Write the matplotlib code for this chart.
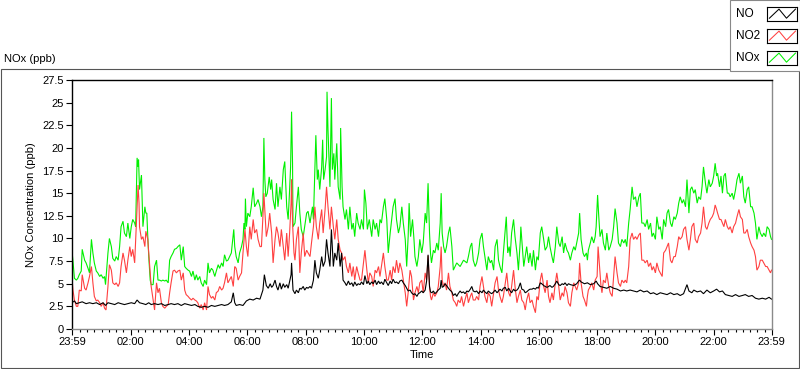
import matplotlib
matplotlib.use("Agg")
import matplotlib.pyplot as plt
import numpy as np
from matplotlib.patches import Rectangle

plt.rcParams['font.family'] = ['Liberation Sans', 'DejaVu Sans']

# minutes after 23:59 of the previous day, value in ppb
nox = [(0,8.6),(2,7.5),(5,5.6),(9,5.4),(12,5.6),(15,6.0),(19,6.4),(21,8.8),(26,7.6),(29,7.3),(33,6.7),(36,6.2),
       (40,9.9),(43,8.4),(46,7.3),(50,6.4),(53,6.2),(57,5.8),(60,6.0),(64,5.6),(67,5.8),(69,4.9),(74,8.4),(77,10.0),
       (81,9.1),(84,7.8),(88,7.5),(91,8.0),(95,7.6),(98,9.1),(101,11.3),(105,11.9),(108,10.6),(112,10.2),(115,11.7),
       (119,10.0),(122,11.3),(125,12.1),(129,11.7),(131,11.3),(134,18.9),(136,17.9),(137,18.7),(139,15.4),(143,17.0),
       (146,11.3),(150,13.5),(152,12.8),(154,12.8),(156,10.2),(158,8.0),(161,5.4),(163,4.9),(167,4.9),(170,6.9),
       (174,7.6),(177,5.4),(180,5.4),(184,5.3),(187,5.4),(191,5.3),(194,5.4),(198,5.1),(201,7.6),(204,8.0),(208,8.4),
       (211,8.8),(215,8.9),(218,9.1),(222,9.3),(225,7.6),(229,9.1),(232,6.9),(235,6.7),(239,6.5),(242,6.4),(246,5.8),
       (249,6.4),(253,5.4),(256,6.0),(259,5.4),(263,5.8),(266,5.1),(270,4.7),(273,5.4),(277,4.9),(280,7.3),(283,6.2),
       (287,6.7),(290,6.5),(294,5.8),(297,6.4),(301,7.1),(304,6.7),(308,7.3),(311,6.9),(314,8.2),(318,7.5),(321,7.6),
       (328,8.4),(333,11.0),(335,9.1),(338,8.0),(342,7.3),(345,8.4),(349,9.1),(352,9.9),(354,11.7),(356,11.0),
       (357,14.4),(359,11.3),(362,12.8),(366,12.4),(369,13.5),(373,15.6),(376,13.5),(380,13.9),(383,14.3),(387,13.5),
       (390,12.4),(393,13.5),(395,21.1),(397,16.5),(399,14.6),(402,15.0),(406,16.8),(409,15.4),(411,16.5),(414,14.3),
       (418,13.2),(421,16.1),(424,13.5),(428,15.7),(431,14.3),(435,17.6),(438,18.5),(442,13.5),(445,12.1),(448,15.4),
       (450,17.9),(452,24.0),(454,18.3),(455,11.3),(459,11.7),(462,13.5),(466,15.7),(469,12.8),(472,11.0),(476,10.2),
       (479,11.3),(483,12.8),(486,13.0),(490,11.7),(493,12.8),(495,13.5),(497,12.1),(500,17.9),(502,21.4),(505,16.5),
       (507,17.6),(510,15.4),(514,17.9),(516,20.9),(518,16.5),(521,17.6),(524,19.0),(525,26.2),(527,22.0),(531,15.7),
       (534,25.5),(536,17.6),(539,19.4),(541,16.5),(545,20.5),(548,15.7),(552,14.3),(553,22.2),(556,15.7),(558,13.5),
       (562,12.1),(565,13.2),(569,11.0),(572,13.5),(576,11.0),(579,11.7),(582,10.2),(586,12.8),(589,11.7),(593,11.0),
       (596,12.1),(600,11.0),(602,15.4),(605,13.9),(608,11.0),(612,12.1),(617,10.2),(620,12.1),(624,11.0),(627,11.7),
       (631,10.2),(634,12.1),(637,11.7),(641,13.5),(644,14.4),(648,12.1),(651,8.4),(655,10.6),(658,12.1),(661,13.5),
       (665,14.4),(668,12.1),(672,10.6),(675,11.3),(679,13.5),(682,11.7),(686,9.9),(689,6.9),(692,10.2),(694,13.9),
       (697,10.2),(701,12.1),(704,9.9),(706,8.0),(710,6.9),(713,8.0),(716,9.9),(720,8.4),(723,9.5),(727,12.8),
       (730,11.7),(733,16.1),(736,10.6),(738,8.4),(740,7.3),(744,8.7),(747,8.4),(751,9.5),(754,8.7),(758,11.7),
       (760,15.0),(762,10.6),(765,9.1),(768,8.4),(771,9.1),(775,10.6),(778,11.3),(782,9.1),(785,6.5),(792,7.3),
       (799,6.9),(806,7.6),(813,7.3),(816,8.0),(820,9.1),(823,9.5),(826,7.6),(830,6.9),(833,7.3),(837,8.4),(840,9.9),
       (844,10.6),(847,9.1),(850,8.0),(854,6.5),(857,8.0),(861,7.3),(864,7.6),(868,6.5),(871,9.1),(875,9.9),(878,7.6),
       (881,6.9),(885,6.2),(888,8.4),(892,11.0),(894,12.4),(897,8.4),(900,9.1),(902,8.0),(905,10.6),(909,12.1),
       (912,10.2),(916,8.4),(919,6.5),(923,9.9),(924,11.3),(927,9.1),(930,6.9),(933,8.0),(936,9.1),(940,7.3),(943,8.4),
       (947,6.9),(950,8.7),(954,6.5),(957,8.0),(960,7.6),(964,10.6),(967,11.3),(971,9.9),(974,8.7),(978,9.1),(981,10.2),
       (984,9.1),(988,8.0),(991,7.3),(995,9.1),(998,11.3),(1002,9.5),(1005,9.1),(1009,10.2),(1012,8.4),(1015,9.5),
       (1019,8.7),(1022,8.4),(1026,7.6),(1029,8.4),(1033,9.1),(1036,8.7),(1039,9.5),(1043,10.6),(1045,12.8),(1048,9.9),
       (1052,8.4),(1055,8.0),(1059,8.4),(1061,7.6),(1063,8.7),(1067,9.5),(1070,10.2),(1074,9.5),(1077,10.2),(1079,11.3),
       (1082,14.8),(1084,12.8),(1087,10.2),(1091,11.0),(1094,9.5),(1098,8.7),(1101,10.6),(1105,8.7),(1108,9.1),
       (1112,9.9),(1115,11.3),(1118,13.3),(1122,11.7),(1125,9.5),(1129,9.1),(1132,9.9),(1136,9.5),(1139,9.9),(1142,9.1),
       (1146,11.7),(1149,13.2),(1153,15.7),(1156,14.3),(1160,14.6),(1163,13.5),(1167,14.6),(1170,15.0),(1173,11.7),
       (1177,11.7),(1180,11.3),(1184,12.1),(1187,11.0),(1191,11.7),(1194,10.2),(1197,10.6),(1201,9.9),(1204,12.4),
       (1208,11.0),(1211,11.3),(1215,9.9),(1218,12.1),(1222,11.3),(1225,12.8),(1228,13.2),(1232,11.7),(1235,11.3),
       (1239,12.4),(1242,12.1),(1246,12.8),(1249,13.9),(1252,14.6),(1256,13.9),(1259,14.3),(1263,13.5),(1266,16.5),
       (1270,12.8),(1273,15.4),(1276,15.7),(1280,15.0),(1283,15.4),(1287,13.9),(1290,14.6),(1294,14.3),(1297,15.7),
       (1300,17.9),(1304,16.1),(1307,15.0),(1311,16.5),(1314,15.7),(1318,16.1),(1321,16.9),(1324,18.3),(1327,16.9),
       (1329,17.2),(1333,15.7),(1336,16.9),(1339,15.0),(1342,16.9),(1345,17.2),(1349,15.0),(1352,15.0),(1355,14.6),
       (1359,15.0),(1362,14.3),(1366,15.4),(1369,16.5),(1373,17.2),(1376,16.1),(1380,16.9),(1383,14.6),(1386,13.9),
       (1390,15.4),(1393,15.7),(1397,13.5),(1400,13.5),(1404,12.8),(1407,11.7),(1410,9.9),(1414,11.3),(1417,10.6),
       (1421,10.2),(1424,10.6),(1428,10.2),(1431,11.3),(1435,11.0),(1438,10.2),(1440,9.9)]

no2 = [(0,5.6),(2,4.3),(5,3.2),(9,2.5),(12,2.5),(15,4.3),(19,4.2),(21,6.0),(26,4.5),(29,4.3),(33,5.1),(36,5.8),
       (40,6.9),(43,5.1),(46,3.6),(50,3.1),(53,3.2),(57,2.9),(60,2.5),(64,2.9),(67,2.3),(70,2.1),(74,4.7),(77,7.1),
       (81,6.5),(84,5.1),(88,4.9),(91,5.1),(95,4.7),(98,5.1),(101,6.9),(105,8.4),(108,7.6),(112,6.2),(115,7.6),(119,9.1),
       (122,8.0),(125,8.8),(129,7.3),(132,11.0),(136,15.9),(138,13.9),(139,11.3),(143,9.9),(146,10.2),(150,9.1),
       (152,10.8),(156,9.9),(160,6.9),(163,4.7),(167,3.2),(170,2.1),(174,5.1),(177,4.0),(180,4.5),(184,2.9),(187,2.5),
       (191,2.3),(194,2.5),(198,2.7),(201,4.0),(204,5.1),(208,6.4),(211,6.5),(215,6.2),(218,6.4),(222,6.5),(225,5.4),
       (229,6.2),(232,4.3),(235,3.8),(239,3.6),(242,3.4),(246,3.2),(249,3.4),(253,3.2),(256,3.1),(259,2.9),(263,2.3),
       (266,2.7),(270,2.1),(273,2.9),(277,2.1),(280,4.7),(283,3.8),(287,3.4),(290,3.6),(294,3.2),(297,4.0),(301,4.2),
       (304,4.7),(308,4.3),(311,4.5),(314,5.1),(318,6.2),(321,5.1),(328,5.8),(332,4.7),(335,6.9),(338,6.7),(342,5.4),
       (345,5.8),(349,6.2),(352,8.4),(356,11.0),(359,9.1),(362,8.0),(366,11.3),(369,9.9),(373,12.1),(376,10.6),
       (380,11.0),(383,9.9),(387,9.1),(390,9.1),(393,12.4),(395,15.0),(398,12.1),(400,10.2),(404,11.3),(407,12.8),
       (411,10.6),(414,7.3),(418,9.9),(421,11.3),(424,10.6),(428,9.1),(431,11.0),(435,9.1),(438,7.6),(442,10.6),
       (445,8.0),(448,10.6),(451,13.9),(452,16.5),(454,11.7),(457,8.4),(459,7.6),(462,9.9),(466,11.3),(469,6.2),
       (472,8.4),(476,10.6),(479,8.0),(483,8.7),(486,8.4),(490,8.0),(493,9.5),(497,11.3),(500,13.5),(503,11.3),
       (507,9.9),(510,11.7),(514,13.2),(517,10.6),(521,13.2),(524,15.7),(527,13.5),(531,11.0),(534,13.5),(538,11.3),
       (541,9.9),(545,12.1),(548,9.9),(552,8.7),(555,8.4),(558,7.6),(562,8.0),(565,6.9),(569,6.2),(572,7.3),(576,5.8),
       (579,6.9),(582,5.4),(586,6.9),(589,6.2),(593,5.4),(596,5.4),(600,7.3),(603,8.7),(607,6.5),(610,5.1),(613,6.2),
       (617,5.8),(620,4.7),(624,6.5),(627,6.2),(631,6.9),(634,5.8),(637,6.9),(641,8.4),(644,6.9),(648,5.4),(651,5.4),
       (655,6.5),(658,5.4),(661,6.9),(665,6.2),(668,7.6),(672,6.2),(675,7.3),(679,6.5),(682,5.4),(686,4.0),(689,2.5),
       (692,4.0),(696,6.5),(699,5.8),(703,3.2),(706,4.0),(710,4.7),(713,4.0),(716,5.1),(720,5.4),(723,4.0),(727,6.2),
       (730,5.4),(733,8.1),(736,4.7),(738,3.6),(740,3.2),(744,4.0),(747,3.6),(751,4.0),(754,4.7),(758,6.9),(760,9.1),
       (762,5.4),(765,4.7),(768,5.1),(771,4.3),(775,6.2),(778,4.7),(782,4.0),(785,3.2),(789,2.9),(792,2.5),(795,3.2),
       (799,2.9),(802,3.6),(806,2.5),(809,3.2),(813,4.0),(816,2.9),(820,3.6),(823,4.0),(826,3.2),(830,3.2),(833,3.6),
       (837,3.2),(840,4.7),(844,5.8),(847,4.7),(850,3.6),(854,2.9),(857,4.0),(861,3.6),(864,2.5),(868,4.0),(871,5.1),
       (875,5.8),(878,4.3),(881,3.6),(885,2.9),(888,3.6),(892,5.1),(895,6.2),(899,4.0),(902,3.6),(905,4.7),(909,6.5),
       (912,4.7),(916,2.9),(919,3.6),(923,4.3),(926,3.2),(930,2.9),(933,2.1),(936,3.2),(940,4.0),(943,2.9),(947,3.2),
       (950,2.5),(954,1.8),(957,3.6),(960,3.2),(964,5.4),(967,6.2),(971,4.7),(974,4.0),(978,5.4),(981,3.6),(984,2.9),
       (988,4.0),(991,3.2),(995,5.1),(998,6.2),(1002,4.7),(1005,3.2),(1009,4.0),(1012,3.6),(1015,4.7),(1019,4.0),
       (1022,2.9),(1026,2.5),(1029,4.0),(1033,5.1),(1036,4.7),(1039,4.3),(1043,5.1),(1045,7.3),(1048,5.1),(1052,3.6),
       (1055,3.2),(1059,2.5),(1061,3.6),(1063,4.3),(1067,4.7),(1070,5.1),(1074,4.3),(1077,5.4),(1081,5.8),(1083,9.1),
       (1086,6.9),(1089,4.7),(1091,4.0),(1094,5.4),(1098,5.1),(1101,6.2),(1105,4.7),(1108,4.0),(1112,3.6),(1115,5.8),
       (1118,8.0),(1122,6.2),(1125,5.1),(1129,4.7),(1132,5.4),(1136,5.1),(1139,5.4),(1142,5.1),(1146,6.9),(1149,9.9),
       (1153,10.6),(1156,9.9),(1160,10.2),(1163,9.9),(1167,10.4),(1170,10.6),(1173,7.6),(1177,7.6),(1180,7.3),
       (1184,7.6),(1187,6.9),(1191,7.3),(1194,6.5),(1197,6.9),(1201,6.2),(1204,7.3),(1208,6.5),(1211,6.2),(1215,5.8),
       (1218,8.4),(1222,8.7),(1225,9.1),(1228,9.5),(1232,7.6),(1235,7.3),(1239,8.0),(1242,8.0),(1246,9.1),(1249,10.2),
       (1252,9.9),(1256,10.2),(1259,11.0),(1263,11.3),(1266,9.9),(1270,8.7),(1273,9.9),(1276,11.3),(1280,11.7),
       (1283,9.9),(1287,9.5),(1290,10.2),(1294,10.6),(1297,11.7),(1300,13.5),(1304,11.3),(1307,11.0),(1311,11.7),
       (1314,12.1),(1318,12.4),(1321,12.8),(1324,13.7),(1327,13.2),(1329,12.8),(1333,12.1),(1336,12.1),(1339,11.7),
       (1342,11.3),(1345,12.1),(1349,11.3),(1352,11.0),(1355,11.3),(1359,10.6),(1362,11.3),(1366,11.7),(1369,12.4),
       (1373,13.2),(1376,12.4),(1380,12.1),(1383,10.6),(1386,10.6),(1390,11.0),(1393,10.2),(1397,9.5),(1400,9.1),
       (1404,8.7),(1407,8.0),(1410,6.5),(1414,6.9),(1417,7.6),(1421,7.6),(1424,7.3),(1428,6.9),(1431,6.9),(1435,6.5),
       (1438,6.2),(1440,6.5)]

no = [(0,2.9),(5,3.1),(9,2.8),(15,2.9),(21,3.0),(29,2.8),(36,2.9),(43,2.8),(50,2.9),(57,2.7),(64,2.9),(69,2.6),
      (74,2.9),(81,2.8),(88,2.7),(95,2.9),(101,2.8),(108,2.7),(115,2.8),(122,2.9),(129,2.8),(134,3.2),(139,2.9),
      (146,2.8),(152,2.7),(158,2.9),(163,2.7),(170,2.8),(177,2.7),(184,2.8),(191,2.6),(198,2.7),(204,2.8),(211,2.7),
      (218,2.8),(225,2.6),(232,2.8),(239,2.7),(246,2.6),(253,2.7),(259,2.5),(266,2.4),(273,2.5),(280,2.4),(287,2.6),
      (294,2.5),(301,2.6),(308,2.7),(314,2.6),(321,2.7),(328,3.0),(332,4.0),(335,2.9),(338,2.6),(345,2.7),(352,2.6),
      (359,3.1),(366,3.3),(373,3.2),(380,3.4),(387,3.3),(393,4.3),(396,6.0),(400,4.8),(404,4.5),(408,5.0),(411,4.6),
      (414,4.8),(418,5.4),(421,4.7),(424,4.3),(428,5.1),(431,4.4),(435,5.0),(438,4.6),(442,4.9),(445,4.5),(451,6.0),
      (452,7.3),(455,4.3),(459,3.9),(462,4.3),(466,4.0),(469,4.5),(472,4.4),(476,4.7),(479,4.3),(483,4.6),(486,4.5),
      (490,4.7),(493,4.5),(497,5.4),(500,7.6),(503,6.2),(507,5.6),(510,6.5),(514,8.0),(517,6.9),(521,7.5),(524,9.9),
      (527,8.4),(531,6.9),(534,11.0),(538,6.9),(541,8.4),(545,7.6),(548,9.5),(552,6.9),(555,8.4),(558,5.4),(562,5.1),
      (565,4.8),(569,5.3),(572,4.9),(576,5.1),(579,4.7),(582,5.2),(586,4.8),(589,5.0),(593,4.9),(596,5.2),(600,4.9),
      (603,5.9),(607,5.0),(610,5.3),(613,4.9),(617,5.2),(620,5.0),(624,5.4),(627,4.9),(631,5.3),(634,5.0),(637,5.2),
      (641,4.9),(644,5.5),(648,5.1),(651,4.8),(655,5.3),(658,5.0),(661,5.5),(665,5.1),(668,5.2),(672,5.0),(675,5.3),
      (679,5.4),(682,5.1),(686,4.8),(689,4.5),(692,4.2),(696,4.3),(699,4.0),(703,3.8),(706,3.9),(710,3.6),(713,3.9),
      (716,4.0),(720,4.2),(723,4.0),(727,4.3),(730,5.3),(733,8.2),(736,4.7),(738,4.1),(741,4.0),(744,4.2),(747,3.9),
      (751,4.1),(754,4.3),(758,4.5),(760,5.4),(762,4.6),(765,4.7),(768,5.0),(771,4.8),(775,4.5),(778,4.3),(782,4.1),
      (785,3.7),(789,3.9),(792,3.6),(795,3.9),(799,4.2),(802,4.0),(806,4.1),(809,3.9),(813,4.2),(816,4.1),(820,4.4),
      (823,4.7),(826,4.2),(830,4.1),(833,4.2),(837,3.9),(840,4.2),(844,4.0),(847,4.3),(850,4.1),(854,3.9),(857,4.2),
      (861,4.0),(864,3.9),(868,4.1),(871,4.3),(875,4.0),(878,4.2),(881,4.4),(885,4.2),(888,4.5),(892,4.6),(895,4.2),
      (899,4.5),(902,4.2),(905,4.0),(909,4.4),(912,4.2),(916,4.3),(919,4.5),(923,5.1),(926,4.4),(930,4.3),(933,4.0),
      (936,4.1),(940,4.3),(943,4.4),(947,4.4),(950,4.5),(954,4.4),(957,4.6),(960,4.5),(964,5.1),(967,5.0),(971,4.8),
      (974,4.7),(978,4.6),(981,4.7),(984,4.8),(988,4.6),(991,4.7),(995,5.0),(998,5.3),(1002,4.9),(1005,4.8),
      (1009,5.0),(1012,4.9),(1015,5.1),(1019,4.8),(1022,5.0),(1026,4.9),(1033,4.8),(1039,5.0),(1043,5.3),(1045,5.4),
      (1048,5.2),(1055,5.0),(1061,5.1),(1067,4.9),(1074,5.0),(1079,5.3),(1082,5.0),(1087,4.7),(1094,4.6),(1101,4.5),
      (1108,4.7),(1115,4.5),(1122,4.4),(1129,4.2),(1136,4.3),(1142,4.2),(1149,4.3),(1156,4.2),(1163,4.1),(1170,4.3),
      (1177,4.1),(1184,4.2),(1191,3.9),(1197,4.0),(1204,3.8),(1211,4.0),(1218,3.9),(1225,3.8),(1232,4.0),(1239,3.8),
      (1246,3.9),(1252,3.7),(1259,3.9),(1266,4.9),(1270,4.2),(1276,4.0),(1280,4.3),(1287,4.1),(1294,4.2),(1300,3.9),
      (1307,4.3),(1314,4.0),(1321,4.2),(1327,4.4),(1333,4.1),(1339,4.2),(1345,3.8),(1352,3.7),(1359,3.6),(1366,3.8),
      (1373,3.6),(1380,3.7),(1386,3.8),(1393,3.6),(1400,3.7),(1407,3.4),(1414,3.3),(1421,3.4),(1428,3.3),(1435,3.5),
      (1440,3.3)]

series = [("NOx", nox, "#00f000"), ("NO2", no2, "#ff4040"), ("NO", no, "black")]
tick_minutes = [0, 121, 241, 361, 481, 601, 721, 841, 961, 1081, 1201, 1321, 1440]
tick_labels = ["23:59", "02:00", "04:00", "06:00", "08:00", "10:00", "12:00",
               "14:00", "16:00", "18:00", "20:00", "22:00", "23:59"]
y_ticks = np.arange(0, 27.6, 2.5)

W, H = 800, 369
fig = plt.figure(figsize=(W / 100, H / 100), dpi=100)
fig.patch.set_facecolor("white")

def fx(px):
    return px / W

def fy(py):
    return 1 - py / H

ax = fig.add_axes([fx(72), fy(329), fx(771.5) - fx(72), fy(80) - fy(329)])
for name, data, col in series:
    t, v = zip(*data)
    ax.plot(t, v, color=col, lw=0.8, solid_joinstyle="miter")

ax.set_xlim(0, 1440)
ax.set_ylim(0, 27.5)
ax.set_xticks(tick_minutes)
ax.set_xticklabels(tick_labels)
ax.set_xticks([1 + 15 * k for k in range(1, 96) if (1 + 15 * k) % 120 != 1], minor=True)
ax.set_yticks(y_ticks)
ax.set_yticklabels([f"{v:g}" for v in y_ticks])
ax.tick_params(axis="both", which="major", labelsize=8, length=4, width=0.8, pad=2, colors="black")
ax.tick_params(axis="x", which="minor", length=2.2, width=0.8, colors="black")
ax.spines["left"].set_color("black")
ax.spines["top"].set_color("black")
ax.spines["right"].set_color("#8a8a8a")
ax.spines["bottom"].set_color("#8a8a8a")
for s in ax.spines.values():
    s.set_linewidth(1.0)
ax.set_ylabel("NOx Concentration (ppb)", fontsize=8, labelpad=4)
ax.set_xlabel("Time", fontsize=8, labelpad=2)

# panel frame and caption
fig.add_artist(Rectangle((fx(0.5), fy(367.5)), fx(799) - fx(0.5), fy(69) - fy(367.5),
                         transform=fig.transFigure, fill=False, ec="#555555", lw=0.8))
fig.text(fx(4), fy(59), "NOx (ppb)", fontsize=8, va="center", ha="left")

# legend panel
fig.add_artist(Rectangle((fx(729.5), fy(70.5)), fx(799.5) - fx(729.5), fy(0) - fy(70.5),
                         transform=fig.transFigure, fc="white", ec="#888888", lw=0.8, zorder=5))
for i, (name, data, col) in enumerate(series[::-1]):
    yc = 14 + 22 * i
    fig.text(fx(736), fy(yc), name, fontsize=8.5, va="center", ha="left", zorder=6)
    lax = fig.add_axes([fx(767), fy(yc + 7), fx(30), fy(0) - fy(14)], zorder=6)
    lax.plot([0.08, 0.4, 0.65, 0.95], [0.2, 0.85, 0.2, 0.85], color=col, lw=0.75)
    lax.set_xlim(0, 1)
    lax.set_ylim(0, 1)
    lax.set_xticks([])
    lax.set_yticks([])
    for s in lax.spines.values():
        s.set_linewidth(0.8)
        s.set_color("black")

fig.savefig("out.png", dpi=100)
